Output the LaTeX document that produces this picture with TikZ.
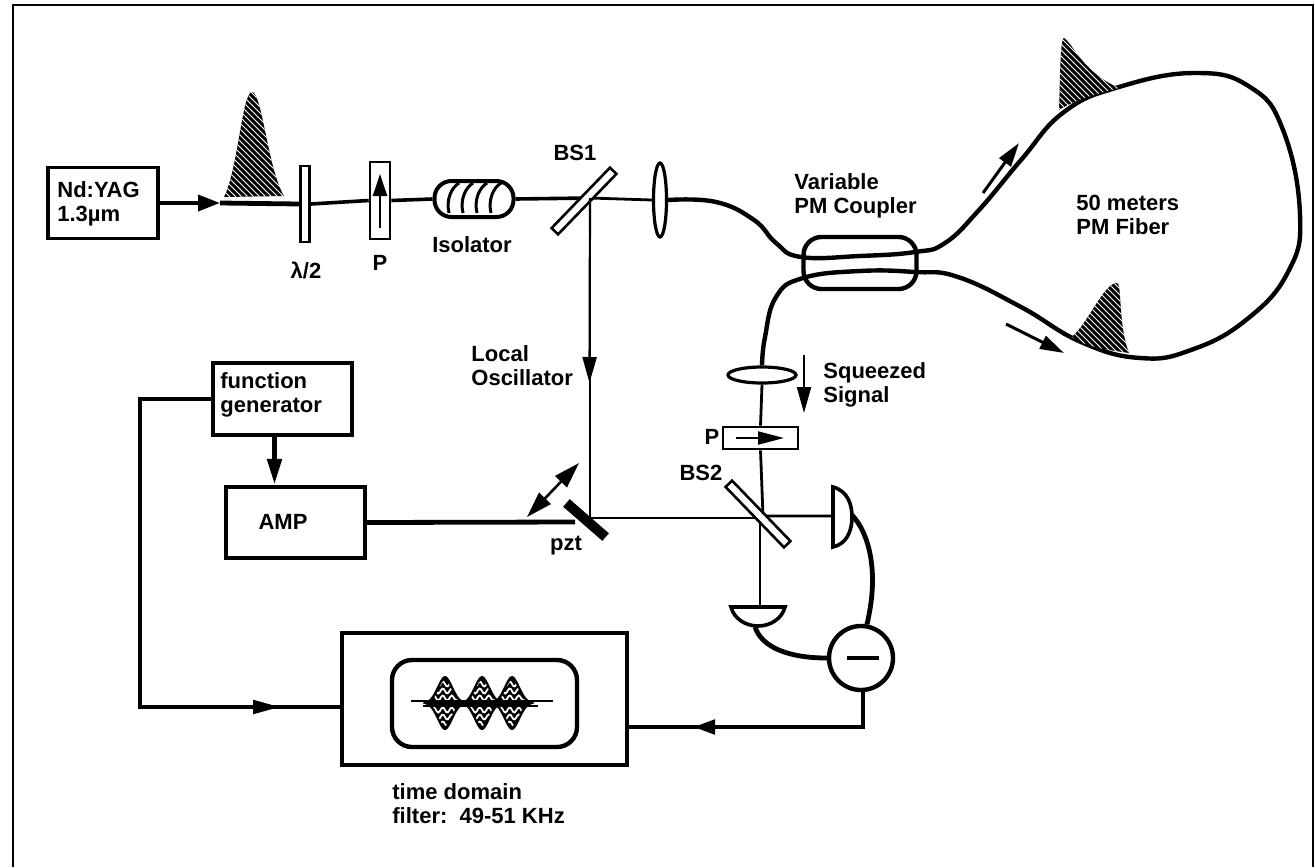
\documentclass[tikz,border=0pt]{standalone}
\usepackage{fontspec}
\setmainfont{Liberation Sans}
\usetikzlibrary{arrows.meta,shapes.geometric,patterns}

\tikzset{
    lab/.style={font=\fontsize{11}{12}\selectfont\bfseries, align=left, inner sep=0pt},
    optic/.style={draw, line width=1.3pt, fill=white, inner sep=0pt, minimum width=#1},
    unitbox/.style={draw, line width=2.2pt, inner sep=0pt},
    beam/.style={line width=1.4pt},
    wire/.style={line width=2.4pt},
    fiber/.style={line width=2.2pt, line join=round},
    bighead/.style={-{Triangle[length=12pt,width=7pt]}},
    pulsefill/.style={fill=black, postaction={pattern=north west lines, pattern color=white}}
}

\begin{document}
\begin{tikzpicture}[x=0.5pt, y=-0.5pt]
    \useasboundingbox (0,0) rectangle (1315,867);
    % Rėmelis be apatinės kraštinės
    \draw[line width=1.4pt] (13,867) -- (13,5) -- (1313,5) -- (1313,867);

    % Lazeris ir optika pirmame pluošte
    \node[unitbox, line width=1.6pt, minimum width=55pt, minimum height=35.5pt] (laser) at (103,203) {};
    \node[lab, anchor=west] (laserText) at (57,204) {Nd:YAG\\1.3µm};
    \node[optic=4.5pt, minimum height=38pt] (plate) at (305,204) {};
    \node[optic=10pt, minimum height=38.5pt] (pol) at (380,200.5) {};
    \node[optic=39.5pt, minimum height=18pt, rounded corners=8.5pt, line width=2pt] (iso) at (474,199) {};
    \node[optic=6.5pt, minimum height=37pt, ellipse, line width=1.6pt] (lensA) at (660,200) {};
    \coordinate (hitA) at (590,198);
    \coordinate (laserTip) at (220,203);

    \draw[-{Triangle[length=11pt,width=8pt]}, line width=1.8pt] (laser.east) -- (laserTip);
    \draw[wire] (laserTip) -- (plate.west);
    \draw[beam, line width=1.8pt] (plate.east) -- (pol.west);
    \draw[beam, line width=1.8pt] (pol.east) -- (iso.west);
    \draw[beam, line width=1.8pt] (iso.east) -- (hitA);
    \draw[beam] (hitA) -- (lensA.west);
    \node[optic=42pt, minimum height=4.5pt, rotate=46] (bs) at (584,201) {};

    % Impulsas prie lazerio
    \path[pulsefill] (224,197) .. controls (238,170) and (242,92) .. (252,92)
        .. controls (262,92) and (268,170) .. (284,196) -- cycle;

    % Poliarizatoriaus rodyklė ir izoliatoriaus vijos
    \coordinate (polTail) at (380,228);
    \coordinate (polTip) at (380,174);
    \draw[-{Triangle[length=11pt,width=7pt]}, line width=1.2pt] (polTail) -- (polTip);
    \foreach \x in {449,463,477,491}
        \draw[line width=1.5pt] (\x,213) .. controls (\x-3,200) and (\x+2,188) .. (\x+10,183);

    % Jungtis ir pluošto kilpa
    \node[unitbox, minimum width=56.5pt, minimum height=26pt, rounded corners=9pt] (coupler) at (860,263) {};
    \node[optic=34pt, minimum height=8pt, ellipse, line width=1.6pt] (lensB) at (762,375) {};
    \draw[fiber] plot[smooth, tension=0.75] coordinates {
        (lensA.east) (716,202) (754,220) (776,243) (801,257) (860,256) (915,252)
        (945,243) (979,210) (1021,160) (1064,112) (1119,87) (1195,73) (1250,87)
        (1283,130) (1300,215) (1288,272) (1246,320) (1191,350) (1140,358)
        (1081,342) (1021,307) (958,277) (915,272) (860,271) (803,278) (776,297)
        (765,337) (lensB.north)};

    % Impulsai kilpoje
    \path[pulsefill] (1059,110) .. controls (1060,85) and (1060,38) .. (1064,38)
        .. controls (1072,42) and (1082,72) .. (1119,88)
        .. controls (1096,94) and (1074,100) .. (1059,110) -- cycle;
    \path[pulsefill] (1072,337) .. controls (1090,320) and (1104,283) .. (1117,283)
        .. controls (1122,283) and (1118,325) .. (1129,353)
        .. controls (1110,350) and (1088,348) .. (1072,337) -- cycle;

    % Krypčių rodyklės
    \coordinate (upTail) at (983,193);
    \coordinate (upTip) at (1019,143);
    \coordinate (downTail) at (1006,324);
    \coordinate (downTip) at (1064,353);
    \draw[bighead, line width=1.5pt] (upTail) -- (upTip);
    \draw[bighead, line width=1.5pt] (downTail) -- (downTip);
    \coordinate (sqTail) at (804,355);
    \coordinate (sqTip) at (804,413);
    \draw[-{Triangle[length=13pt,width=7pt]}, line width=1.1pt] (sqTail) -- (sqTip);

    % Signalo šaka
    \node[optic=37.5pt, minimum height=11pt] (polB) at (760.5,438) {};
    \coordinate (polBTail) at (736,438);
    \coordinate (polBTip) at (784,438);
    \draw[-{Triangle[length=13pt,width=6.5pt]}, line width=1.1pt] (polBTail) -- (polBTip);
    \coordinate (hitB) at (763,516);
    \coordinate (hitC) at (760,518);
    \coordinate (detRight) at (833,516);
    \coordinate (detDown) at (760,607);
    \coordinate (wireRight) at (852,515);
    \coordinate (wireDown) at (755,627);
    \draw[beam] (lensB.south) -- (polB.north);
    \draw[beam] (polB.south) -- (hitB) -- (detRight);
    \draw[beam] (hitC) -- (detDown);
    \draw[line width=1.8pt, fill=white] (833,487) .. controls (848,491) and (852,505) .. (852,517)
        .. controls (852,532) and (846,544) .. (833,547) -- cycle;
    \draw[line width=1.8pt, fill=white] (731,607) -- (785,607) .. controls (782,619) and (770,626) .. (758,626)
        .. controls (746,626) and (734,619) .. (731,607) -- cycle;

    % Atimties grandinė
    \node[circle, draw, line width=2.2pt, minimum size=32pt, inner sep=0pt] (diff) at (861,658) {};
    \draw[line width=2.4pt] (847,658) -- (879,658);
    \draw[wire] (wireRight) .. controls (868,532) and (880,570) .. (diff.80);
    \draw[wire] (wireDown) .. controls (762,648) and (790,658) .. (diff.west);

    % Vietinis osciliatorius ir pzt
    \coordinate (pztHit) at (590,518);
    \coordinate (loMid) at (589.5,383);
    \draw[beam] (hitA) -- (pztHit) -- (hitC);
    \draw[-{Triangle[length=13pt,width=7pt]}, line width=1.1pt] (hitA) -- (loMid);
    \node[optic=42pt, minimum height=4.5pt, rotate=-46] (bsB) at (758,514) {};
    \node[draw=none, fill=black, minimum width=26pt, minimum height=5pt, inner sep=0pt, rotate=-41] (pzt) at (586,520) {};
    \coordinate (shakeA) at (579,463);
    \coordinate (shakeB) at (527,517);
    \draw[{Triangle[length=13pt,width=8pt]}-{Triangle[length=13pt,width=8pt]}, line width=1.3pt] (shakeB) -- (shakeA);

    % Valdymo blokai
    \node[unitbox, minimum width=69.5pt, minimum height=36pt] (func) at (282.5,399) {};
    \node[lab, anchor=west] (funcText) at (220,395) {function\\generator};
    \node[unitbox, minimum width=69.5pt, minimum height=35.5pt] (amp) at (295.5,522.5) {};
    \node[lab] (ampText) at (283,522) {AMP};
    \draw[-{Triangle[length=13pt,width=7pt]}, line width=2.6pt] (func.south) ++(-8,0) coordinate (funcOut) -- (funcOut |- amp.north);
    \coordinate (pztIn) at (575,522);
    \draw[wire] (amp.east) -- (pztIn);

    % Filtras
    \node[unitbox, minimum width=142.5pt, minimum height=66pt] (filter) at (484.5,699) {};
    \node[draw, line width=2.2pt, minimum width=92.5pt, minimum height=43.5pt, rounded corners=10pt, inner sep=0pt] (window) at (484.5,703.5) {};
    \foreach \c in {445,482,512} {
        \fill plot[domain=\c-22:\c+22, samples=31, smooth] (\x,{703-27*exp(-((\x-\c)/11)^2)})
            -- plot[domain=\c+22:\c-22, samples=31, smooth] (\x,{703+27*exp(-((\x-\c)/11)^2)}) -- cycle;
        \begin{scope}
            \clip plot[domain=\c-20:\c+20, samples=31, smooth] (\x,{703-23*exp(-((\x-\c)/9)^2)})
                -- plot[domain=\c+20:\c-20, samples=31, smooth] (\x,{703+23*exp(-((\x-\c)/9)^2)}) -- cycle;
            \foreach \lev in {-19,-12,-5,7,14,21}
                \draw[white, line width=0.9pt] plot[domain=\c-16:\c+16, samples=25, smooth] (\x,{703+\lev+2.5*sin((\x-\c)*40)});
        \end{scope}
    }
    \coordinate (traceA) at (411,701);
    \coordinate (traceB) at (553,701);
    \coordinate (traceC) at (423,706);
    \coordinate (traceD) at (538,706);
    \draw[line width=1.4pt] (traceA) -- (traceB);
    \draw[line width=1.2pt] (traceC) -- (traceD);

    % Grįžtamieji laidai
    \coordinate (busA) at (140,399);
    \coordinate (busB) at (140,707);
    \coordinate (filterL) at (342,707);
    \coordinate (busTip) at (281,707);
    \draw[wire] (func.west) -- (busA) -- (busB) -- (filterL);
    \draw[-{Triangle[length=14pt,width=6.5pt]}, line width=2.4pt] (busB) -- (busTip);
    \coordinate (filterR) at (627,727);
    \coordinate (diffLow) at (863,727);
    \coordinate (backTip) at (693,727);
    \draw[wire] (diffLow |- diff.south) -- (diffLow) -- (filterR);
    \draw[-{Triangle[length=11pt,width=7pt]}, line width=2.4pt] (diffLow) -- (backTip);

    % Užrašai
    \node[lab] (plateText) at (306,270) {λ/2};
    \node[lab] (polText) at (380,263) {P};
    \node[lab] (isoText) at (472,245) {Isolator};
    \node[lab] (bsText) at (575,153) {BS1};
    \node[lab, anchor=west] (couplerText) at (794,196) {Variable\\PM Coupler};
    \node[lab, anchor=west] (fiberText) at (1076,215) {50 meters\\PM Fiber};
    \node[lab, anchor=west] (signalText) at (823,385) {Squeezed\\Signal};
    \node[lab] (polBText) at (712,437) {P};
    \node[lab] (bsBText) at (701,473) {BS2};
    \node[lab, anchor=west] (loText) at (471,366) {Local\\Oscillator};
    \node[lab] (pztText) at (566,546) {pzt};
    \node[lab, anchor=west] (filterText) at (392,804) {time domain\\filter:\ \ 49-51 KHz};
\end{tikzpicture}
\end{document}
